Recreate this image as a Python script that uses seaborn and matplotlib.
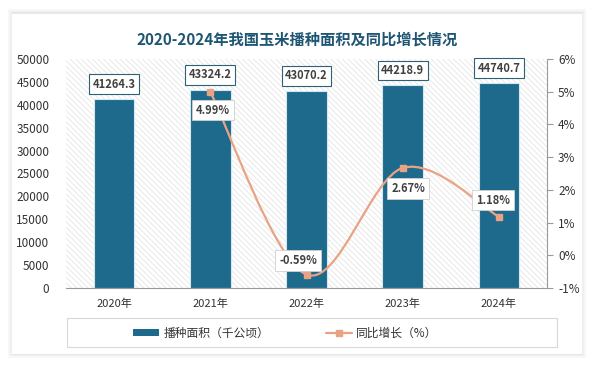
import numpy as np
import pandas as pd
import matplotlib
matplotlib.use("Agg")
import matplotlib.pyplot as plt
import seaborn as sns
from matplotlib.path import Path
from matplotlib.patches import PathPatch, Rectangle, Patch
from matplotlib.lines import Line2D
from matplotlib.ticker import FuncFormatter, MultipleLocator

# 数据
years = ["2020年", "2021年", "2022年", "2023年", "2024年"]
area = [41264.3, 43324.2, 43070.2, 44218.9, 44740.7]
growth = [np.nan, 4.99, -0.59, 2.67, 1.18]
title = "2020-2024年我国玉米播种面积及同比增长情况"

sns.set_style("white")
plt.rcParams["font.family"] = ["Noto Sans CJK SC", "DejaVu Sans"]
plt.rcParams["hatch.linewidth"] = 0.5

bar_color = "#1E6A8D"
line_color = "#E9A384"
box_edge = "#2F6176"

df = pd.DataFrame({"year": years, "area": area, "growth": growth})

fig = plt.figure(figsize=(5.94, 3.66), dpi=100)
fig.patch.set_facecolor("white")

# 卡片阴影
for i, a in enumerate([0.03, 0.03, 0.03]):
    fig.patches.append(Rectangle((12 / 594 - i * 0.003, 11 / 366 - i * 0.004),
                                 570 / 594 + i * 0.006, 343 / 366 + i * 0.008,
                                 transform=fig.transFigure, facecolor="black",
                                 alpha=a, edgecolor="none", zorder=0))
fig.patches.append(Rectangle((12 / 594, 12 / 366), 570 / 594, 340 / 366,
                             transform=fig.transFigure, facecolor="white",
                             edgecolor="none", zorder=0.5))

ax = fig.add_axes([66 / 594, 1 - 288 / 366, 481 / 594, 229 / 366])
ax.set_zorder(1)
ax.patch.set_facecolor("white")
ax.patch.set_hatch("\\\\\\\\\\\\")
ax.patch.set_edgecolor("#e0e0e0")
ax.patch.set_linewidth(0)

sns.barplot(data=df, x="year", y="area", color=bar_color, saturation=1,
            width=0.42, edgecolor="#d5e8ef", linewidth=0.8, ax=ax, zorder=2)
ax.set_xlim(-0.5, 4.5)
ax.set_ylim(0, 50000)
ax.yaxis.set_major_locator(MultipleLocator(5000))
ax.set_xlabel("")
ax.set_ylabel("")
for s in ["top", "left", "right"]:
    ax.spines[s].set_visible(False)
ax.spines["bottom"].set_color("#9a9a9a")
ax.spines["bottom"].set_linewidth(0.8)
ax.tick_params(axis="y", length=0, pad=12, labelsize=8.5, labelcolor="#333333")
ax.tick_params(axis="x", length=0, pad=8, labelsize=8, labelcolor="#333333")

for i, v in enumerate(area):
    ax.annotate(f"{v}", (i, v), xytext=(0, 6), textcoords="offset points",
                ha="center", va="bottom", fontsize=8, fontweight="bold",
                color="#404040", zorder=5,
                bbox=dict(boxstyle="square,pad=0.3", fc="white", ec=box_edge, lw=0.8))

ax2 = ax.twinx()
ax2.set_ylim(-1, 6)
ax2.yaxis.set_major_locator(MultipleLocator(1))
ax2.yaxis.set_major_formatter(FuncFormatter(lambda v, p: f"{v:.0f}%"))
for s in ["top", "left", "bottom"]:
    ax2.spines[s].set_visible(False)
ax2.spines["right"].set_color("#9a9a9a")
ax2.spines["right"].set_linewidth(0.8)
ax2.tick_params(axis="y", length=4, color="#9a9a9a", pad=4, labelsize=8.5,
                labelcolor="#333333")

# 平滑曲线 (Catmull-Rom -> Bezier)
xs = [i for i, g in enumerate(growth) if not np.isnan(g)]
ys = [g for g in growth if not np.isnan(g)]
pts = np.column_stack([xs, ys])
verts = [tuple(pts[0])]
codes = [Path.MOVETO]
for k in range(len(pts) - 1):
    p0 = pts[k - 1] if k > 0 else pts[k]
    p1, p2 = pts[k], pts[k + 1]
    p3 = pts[k + 2] if k + 2 < len(pts) else pts[k + 1]
    c1 = p1 + (p2 - p0) / 6
    c2 = p2 - (p3 - p1) / 6
    verts += [tuple(c1), tuple(c2), tuple(p2)]
    codes += [Path.CURVE4] * 3
ax2.add_patch(PathPatch(Path(verts, codes), fill=False, edgecolor=line_color,
                        lw=1.6, zorder=3))
ax2.plot(xs, ys, linestyle="none", marker="s", markersize=5,
         color=line_color, zorder=4)

offsets = {1: (2, -13), 2: (-6, 10), 3: (4, -15), 4: (-4, 12)}
for i in xs:
    dx, dy = offsets[i]
    ax2.annotate(f"{growth[i]:.2f}%", (i, growth[i]), xytext=(dx, dy),
                 textcoords="offset points", ha="center", va="center",
                 fontsize=8, fontweight="bold", color="#404040", zorder=6,
                 bbox=dict(boxstyle="square,pad=0.35", fc="white", ec="#d0d0d0", lw=0.6))

fig.text(0.5, 1 - 40 / 366, title, ha="center", va="center", fontsize=11,
         fontweight="bold", color="#1F5673")

# 图例
fig.patches.append(Rectangle((67 / 594, 1 - 347 / 366), 490 / 594, 29 / 366,
                             transform=fig.transFigure, facecolor="white",
                             edgecolor="#d8d8d8", lw=0.8, zorder=1))
handles = [Patch(facecolor=bar_color, edgecolor="none"),
           Line2D([], [], color=line_color, marker="s", markersize=5, lw=1.6)]
labels = ["播种面积（千公顷）", "同比增长（%）"]
leg = fig.legend(handles, labels, loc="center left", ncol=2,
                 bbox_to_anchor=(122 / 594, 1 - 333 / 366), fontsize=8.5,
                 frameon=False, handlelength=2.2, handleheight=0.5,
                 handletextpad=0.4, columnspacing=4.8)
for t in leg.get_texts():
    t.set_color("#333333")

fig.savefig("out.png", dpi=100)
